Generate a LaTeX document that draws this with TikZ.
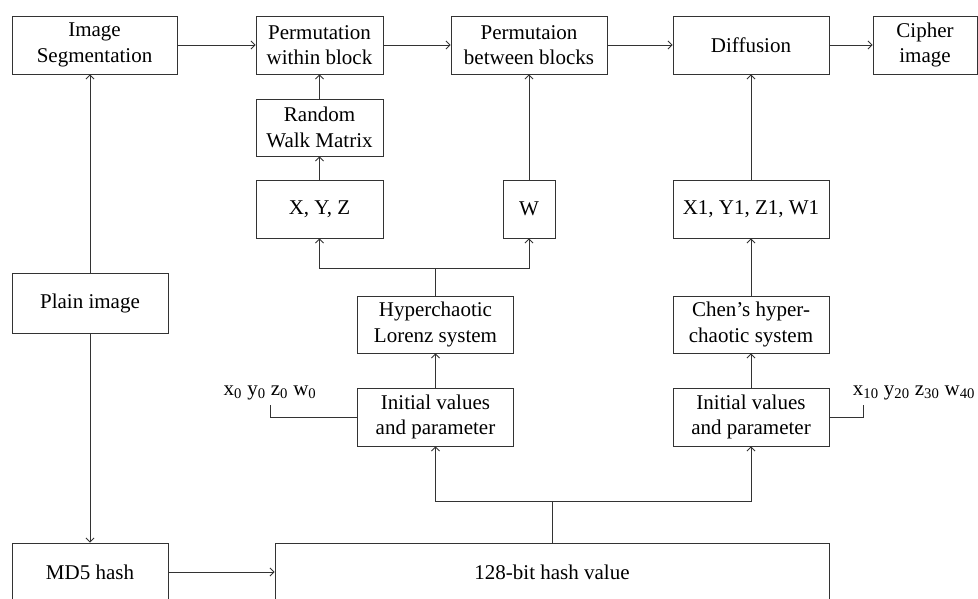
\documentclass[tikz,border=0pt]{standalone}
\usepackage{fontspec}
\setmainfont{Liberation Serif}
\usetikzlibrary{arrows,arrows.meta,positioning,calc}

\begin{document}
\begin{tikzpicture}[x=1pt,y=-1pt,>={Straight Barb[length=4pt,width=8pt]},
  box/.style={draw=black!80,line width=0.9pt,align=center,minimum height=58pt,minimum width=156pt,inner sep=1pt,font=\fontsize{21}{25.5}\selectfont},
  lbl/.style={inner sep=1pt,font=\fontsize{21}{25.5}\selectfont},
  line/.style={draw=black!80,line width=0.9pt}]
  \useasboundingbox (0,0) rectangle (978,599);
  \node [box,minimum width=165pt] (seg) at (94.5,45) {Image\\Segmentation};
  \node [box,minimum width=127pt] (within) at (319.5,45) {Permutation\\within block};
  \node [box] (between) at (529,45) {Permutaion\\between blocks};
  \node [box] (diff) at (751,45) {Diffusion};
  \node [box,minimum width=104pt] (cipher) at (925,45) {Cipher\\image};
  \node [box,minimum width=127pt,minimum height=57pt] (rwm) at (319.5,127.5) {Random\\Walk Matrix};
  \node [box,minimum width=127pt] (xyz) at (319.5,209) {X, Y, Z};
  \node [box,minimum width=52pt] (w) at (529,209) {W};
  \node [box] (xyzw) at (751,209) {X1, Y1, Z1, W1};
  \node [box,minimum height=60pt] (plain) at (90,303) {Plain image};
  \node [box,minimum height=57pt] (lorenz) at (435.5,324.5) {Hyperchaotic\\Lorenz system};
  \node [box,minimum height=57pt] (chen) at (751,324.5) {Chen’s hyper-\\chaotic system};
  \node [box] (initl) at (435.5,417) {Initial values\\and parameter};
  \node [box] (initr) at (751,417) {Initial values\\and parameter};
  \node [box] (md5) at (90,572) {MD5 hash};
  \node [box,minimum width=554pt] (hash) at (552,572) {128-bit hash value};
  \node [lbl] (ivl) at (270,393) {x\textsubscript{0} y\textsubscript{0} z\textsubscript{0} w\textsubscript{0}};
  \node [lbl] (ivr) at (914,393) {x\textsubscript{10} y\textsubscript{20} z\textsubscript{30} w\textsubscript{40}};
  \coordinate (hsplit) at (552,501);
  \coordinate (lsplit) at (435.5,268);

  \draw [line,->] (seg) -- (within);
  \draw [line,->] (within) -- (between);
  \draw [line,->] (between) -- (diff);
  \draw [line,->] (diff) -- (cipher);
  \draw [line,->] (plain) -- (plain |- seg.south);
  \draw [line,->] (plain) -- (md5);
  \draw [line,->] (md5) -- (hash);
  \draw [line] (hash.north) -- (hsplit);
  \draw [line,->] (hsplit) -| (initl);
  \draw [line,->] (hsplit) -| (initr);
  \draw [line,->] (initl) -- (lorenz);
  \draw [line,->] (initr) -- (chen);
  \draw [line] (lorenz) -- (lsplit);
  \draw [line,->] (lsplit) -| (xyz);
  \draw [line,->] (lsplit) -| (w);
  \draw [line,->] (xyz) -- (rwm);
  \draw [line,->] (rwm) -- (within);
  \draw [line,->] (w) -- (between);
  \draw [line,->] (chen) -- (xyzw);
  \draw [line,->] (xyzw) -- (diff);
  \draw [line] (initl.west) -| ([yshift=-4pt]ivl.south);
  \draw [line] (initr.east) -| ([xshift=12pt,yshift=-4pt]ivr.south west);
\end{tikzpicture}
\end{document}
